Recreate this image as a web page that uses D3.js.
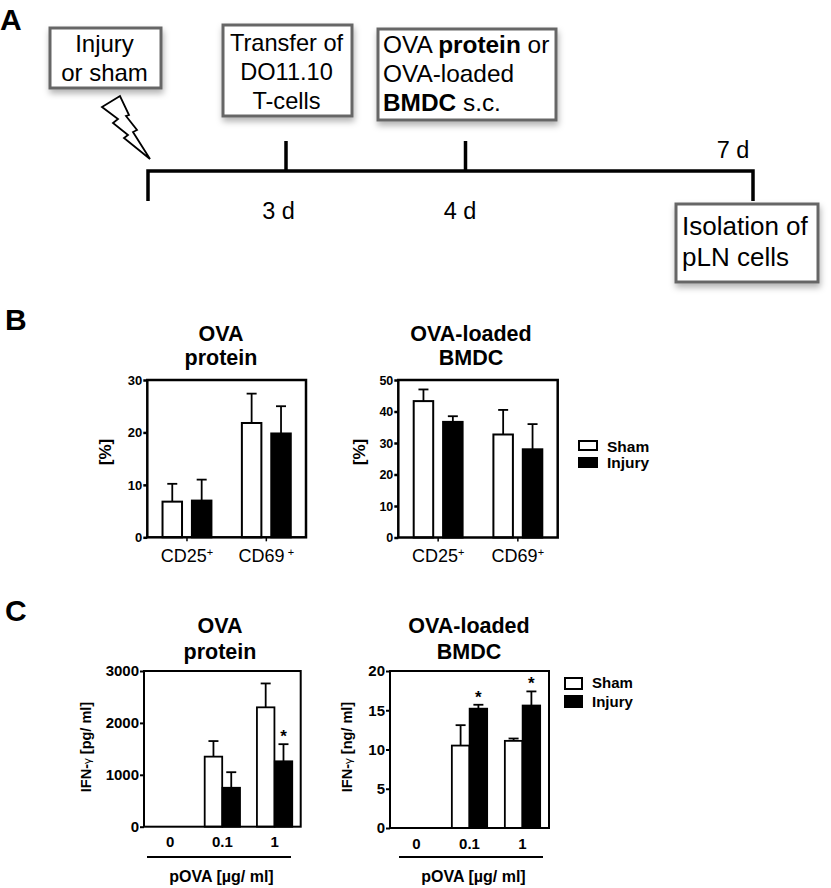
<!DOCTYPE html>
<html>
<head>
<meta charset="utf-8">
<script src="https://cdn.jsdelivr.net/npm/d3@7"></script>
<style>
  body { margin: 0; background: #fff; }
  text { font-family: "Liberation Sans", Arial, sans-serif; fill: #000; }
</style>
</head>
<body>
<svg id="fig"></svg>
<script>
// series
const groups = ["Sham", "Injury"];
const surfaceCats = ["CD25", "CD69"];
const doseCats = ["0", "0.1", "1"];

const b1Sham = [6.8, 21.8], b1ShamTop = [10.2, 27.4];
const b1Injury = [7.0, 19.8], b1InjuryTop = [11.0, 25.0];
const b2Sham = [43.3, 32.7], b2ShamTop = [47.0, 40.5];
const b2Injury = [36.7, 28.0], b2InjuryTop = [38.5, 36.0];

const c1Sham = [0, 1350, 2300], c1ShamTop = [0, 1650, 2760];
const c1Injury = [0, 750, 1260], c1InjuryTop = [0, 1050, 1590];
const c2Sham = [0, 10.5, 11.1], c2ShamTop = [0, 13.1, 11.4];
const c2Injury = [0, 15.2, 15.6], c2InjuryTop = [0, 15.7, 17.4];

const b1Ticks = [0, 10, 20, 30];
const b2Ticks = [0, 10, 20, 30, 40, 50];
const c1Ticks = [0, 1000, 2000, 3000];
const c2Ticks = [0, 5, 10, 15, 20];

const svg = d3.select("#fig").attr("width", 831).attr("height", 888);

const defs = svg.append("defs");
const shadow = defs.append("filter").attr("id", "shadow")
    .attr("x", "-10%").attr("y", "-10%").attr("width", "125%").attr("height", "130%");
shadow.append("feDropShadow").attr("dx", 1).attr("dy", 4)
    .attr("stdDeviation", 3).attr("flood-color", "#000").attr("flood-opacity", 0.3);

// panel letters
[["A", 0, 30], ["B", 5, 330], ["C", 5, 621]].forEach(d => {
    svg.append("text").text(d[0]).attr("x", d[1]).attr("y", d[2])
        .attr("font-size", 30).attr("font-weight", "bold");
});

// ---- A: timeline ----
const boxes = [
    { x: 50, y: 28, w: 111, h: 60, anchor: "middle", fs: 24, gap: 29, lines: [["Injury"], ["or sham"]], tx: 104.5, ty: 52 },
    { x: 223, y: 25, w: 129, h: 91, anchor: "middle", fs: 23.6, gap: 29, lines: [["Transfer of"], ["DO11.10"], ["T-cells"]], tx: 286.5, ty: 51 },
    { x: 378, y: 29, w: 178, h: 91, anchor: "start", fs: 24.4, gap: 29,
      lines: [["OVA ", ["protein"], " or"], ["OVA-loaded"], [["BMDC"], " s.c."]], tx: 383, ty: 53 },
    { x: 676, y: 204, w: 142, h: 78, anchor: "start", fs: 26, gap: 31, lines: [["Isolation of"], ["pLN cells"]], tx: 682, ty: 235 }
];

boxes.forEach(b => {
    svg.append("rect").attr("x", b.x).attr("y", b.y).attr("width", b.w).attr("height", b.h)
        .attr("fill", "#fff").attr("stroke", "#666").attr("stroke-width", 3)
        .attr("filter", "url(#shadow)");
    b.lines.forEach((parts, j) => {
        const t = svg.append("text").attr("x", b.tx).attr("y", b.ty + j * b.gap)
            .attr("text-anchor", b.anchor).attr("font-size", b.fs);
        parts.forEach(p => {
            // nested array = bold run
            if (Array.isArray(p)) t.append("tspan").attr("font-weight", "bold").text(p[0]);
            else t.append("tspan").text(p);
        });
    });
});

const timeline = d3.path();
timeline.moveTo(148, 201); timeline.lineTo(148, 171); timeline.lineTo(753, 171); timeline.lineTo(753, 201);
timeline.moveTo(286, 171); timeline.lineTo(286, 141);
timeline.moveTo(465.5, 171); timeline.lineTo(465.5, 141);
svg.append("path").attr("d", timeline.toString()).attr("fill", "none")
    .attr("stroke", "#000").attr("stroke-width", 3.5);

[["3 d", 278.5, 219], ["4 d", 460, 219], ["7 d", 733, 158]].forEach(d => {
    svg.append("text").text(d[0]).attr("x", d[1]).attr("y", d[2])
        .attr("text-anchor", "middle").attr("font-size", 23.5);
});

// lightning bolt
const bolt = [[102, 107], [120, 96], [129, 115], [126, 116], [137, 130], [133, 132],
    [150, 159], [124, 138], [128, 135], [113, 123], [118, 119]];
svg.append("path").attr("d", d3.line()(bolt) + "Z")
    .attr("fill", "#fff").attr("stroke", "#000").attr("stroke-width", 1.8)
    .attr("stroke-linejoin", "miter");

// ---- bar panels ----
function barPanel(o) {
    const x = d3.scaleBand().domain(o.cats).range([o.left, o.right]);
    const inner = d3.scalePoint().domain(groups).range([-o.offset, o.offset]);
    const y = d3.scaleLinear().domain([0, o.ticks[o.ticks.length - 1]]).range([o.bottom, o.top]);
    const g = svg.append("g");

    const series = [
        { name: "Sham", vals: o.sham, tops: o.shamTop, fill: "#fff" },
        { name: "Injury", vals: o.injury, tops: o.injuryTop, fill: "#000" }
    ];

    series.forEach(s => {
        const cx = (c) => x(c) + x.bandwidth() / 2 + inner(s.name);
        const rows = o.cats.map((c, i) => ({ c: c, v: s.vals[i], top: s.tops[i] })).filter(d => d.v > 0);

        const err = g.append("g").selectAll("g").data(rows).join("g")
            .attr("stroke", "#000").attr("stroke-width", o.errWidth);
        err.append("line").attr("x1", d => cx(d.c)).attr("x2", d => cx(d.c))
            .attr("y1", d => y(d.v)).attr("y2", d => y(d.top));
        err.append("line").attr("x1", d => cx(d.c) - 5).attr("x2", d => cx(d.c) + 5)
            .attr("y1", d => y(d.top)).attr("y2", d => y(d.top));

        g.append("g").selectAll("rect").data(rows).join("rect")
            .attr("x", d => cx(d.c) - o.barW / 2)
            .attr("width", o.barW)
            .attr("y", d => y(d.v))
            .attr("height", d => y(0) - y(d.v))
            .attr("fill", s.fill)
            .attr("stroke", "#000").attr("stroke-width", o.barStroke);
    });

    // frame
    g.append("rect").attr("x", o.left).attr("y", o.top)
        .attr("width", o.right - o.left).attr("height", o.bottom - o.top)
        .attr("fill", "none").attr("stroke", "#000").attr("stroke-width", o.frame);

    const yAxis = g.append("g").attr("transform", `translate(${o.left},0)`)
        .call(d3.axisLeft(y).tickValues(o.ticks).tickFormat(d3.format("d")).tickSize(o.tickLen).tickPadding(1));
    yAxis.select(".domain").remove();
    yAxis.selectAll("line").attr("stroke-width", o.frame);
    yAxis.selectAll("text").attr("font-size", o.tickFont).attr("font-weight", "bold")
        .attr("font-family", "Liberation Sans");

    const xAxis = g.append("g").attr("transform", `translate(0,${o.bottom})`)
        .call(d3.axisBottom(x).tickSize(o.xTick).tickPadding(o.xPad));
    xAxis.select(".domain").remove();
    xAxis.selectAll("line").attr("stroke-width", 1.5);
    xAxis.selectAll("text").attr("font-family", "Liberation Sans");

    if (o.surface) {
        xAxis.selectAll("text").attr("font-size", 18).text(d => d)
            .each(function(d, i) {
                d3.select(this).append("tspan").attr("font-size", 11).attr("dy", -6)
                    .text((o.supGap && o.supGap[i] ? "\u00a0" : "") + "+");
            });
    } else {
        xAxis.selectAll("text").attr("font-size", o.tickFont).attr("font-weight", "bold");
    }

    // titles
    o.title.forEach((t, i) => {
        g.append("text").text(t).attr("x", o.titleX).attr("y", o.titleY + i * o.titleGap)
            .attr("text-anchor", "middle").attr("font-size", 21.5).attr("font-weight", "bold");
    });

    // y label
    const yl = g.append("text").attr("text-anchor", "middle").attr("font-weight", "bold")
        .attr("font-size", o.yFont)
        .attr("transform", `translate(${o.yLabelX},${(o.yLabelY)}) rotate(-90)`);
    o.yLabel.forEach(p => {
        if (p === "\u03b3") yl.append("tspan").attr("font-size", o.yFont - 3).attr("font-weight", "normal").text(p);
        else yl.append("tspan").text(p);
    });

    // stars
    (o.stars || []).forEach(i => {
        g.append("text").text("*")
            .attr("x", x(o.cats[i]) + x.bandwidth() / 2 + inner("Injury"))
            .attr("y", y(o.injuryTop[i]) - 2)
            .attr("text-anchor", "middle").attr("font-size", 17).attr("font-weight", "bold");
    });

    // dose rule and x title
    if (o.rule) {
        g.append("line").attr("x1", o.rule[0]).attr("x2", o.rule[1])
            .attr("y1", 857).attr("y2", 857).attr("stroke", "#000").attr("stroke-width", 2);
        g.append("text").text("pOVA [\u00b5g/ ml]").attr("x", (o.rule[0] + o.rule[1]) / 2 + 2.5).attr("y", 882)
            .attr("text-anchor", "middle").attr("font-size", 16).attr("font-weight", "bold");
    }
}

barPanel({
    cats: surfaceCats, surface: true, supGap: [false, true],
    left: 147.3, right: 306, top: 380, bottom: 537.3, offset: 14.7, barW: 19.5,
    sham: b1Sham, shamTop: b1ShamTop, injury: b1Injury, injuryTop: b1InjuryTop, ticks: b1Ticks,
    tickFont: 13, tickLen: 4, frame: 2.5, barStroke: 2, errWidth: 1.8, xTick: 4, xPad: 8,
    title: ["OVA", "protein"], titleX: 221, titleY: 341, titleGap: 24,
    yLabel: ["[%]"], yFont: 17, yLabelX: 111, yLabelY: 452
});

barPanel({
    cats: surfaceCats, surface: true,
    left: 398.3, right: 557.7, top: 380, bottom: 537.5, offset: 14.7, barW: 19.5,
    sham: b2Sham, shamTop: b2ShamTop, injury: b2Injury, injuryTop: b2InjuryTop, ticks: b2Ticks,
    tickFont: 12.5, tickLen: 4, frame: 2.5, barStroke: 2, errWidth: 1.8, xTick: 4, xPad: 8,
    title: ["OVA-loaded", "BMDC"], titleX: 471, titleY: 341, titleGap: 24,
    yLabel: ["[%]"], yFont: 17, yLabelX: 365, yLabelY: 452
});

barPanel({
    cats: doseCats, stars: [2],
    left: 144, right: 300.7, top: 671, bottom: 826.7, offset: 8.9, barW: 17.5,
    sham: c1Sham, shamTop: c1ShamTop, injury: c1Injury, injuryTop: c1InjuryTop, ticks: c1Ticks,
    tickFont: 15, tickLen: 4, frame: 2, barStroke: 1.8, errWidth: 1.8, xTick: 0, xPad: 10,
    title: ["OVA", "protein"], titleX: 220, titleY: 633, titleGap: 26,
    yLabel: ["IFN-", "\u03b3", " [pg/ ml]"], yFont: 14.5, yLabelX: 91, yLabelY: 747,
    rule: [147, 291]
});

barPanel({
    cats: doseCats, stars: [1, 2],
    left: 390, right: 549, top: 671, bottom: 828, offset: 8.9, barW: 17.5,
    sham: c2Sham, shamTop: c2ShamTop, injury: c2Injury, injuryTop: c2InjuryTop, ticks: c2Ticks,
    tickFont: 15, tickLen: 4, frame: 2, barStroke: 1.8, errWidth: 1.8, xTick: 0, xPad: 10,
    title: ["OVA-loaded", "BMDC"], titleX: 469, titleY: 633, titleGap: 26,
    yLabel: ["IFN-", "\u03b3", " [ng/ ml]"], yFont: 14.5, yLabelX: 352, yLabelY: 747,
    rule: [399, 543]
});

// legends
function legend(x0, w, h, ys, textX, textYs, fs) {
    groups.forEach((name, i) => {
        svg.append("rect").attr("x", x0).attr("y", ys[i]).attr("width", w).attr("height", h)
            .attr("fill", i ? "#000" : "#fff").attr("stroke", "#000").attr("stroke-width", 2);
        svg.append("text").text(name).attr("x", textX).attr("y", textYs[i])
            .attr("font-size", fs).attr("font-weight", "bold");
    });
}
legend(579, 18, 9, [441, 458], 607, [452, 468], 15.5);
legend(565, 17, 11, [678, 696], 592, [688, 707], 15);
</script>
</body>
</html>
